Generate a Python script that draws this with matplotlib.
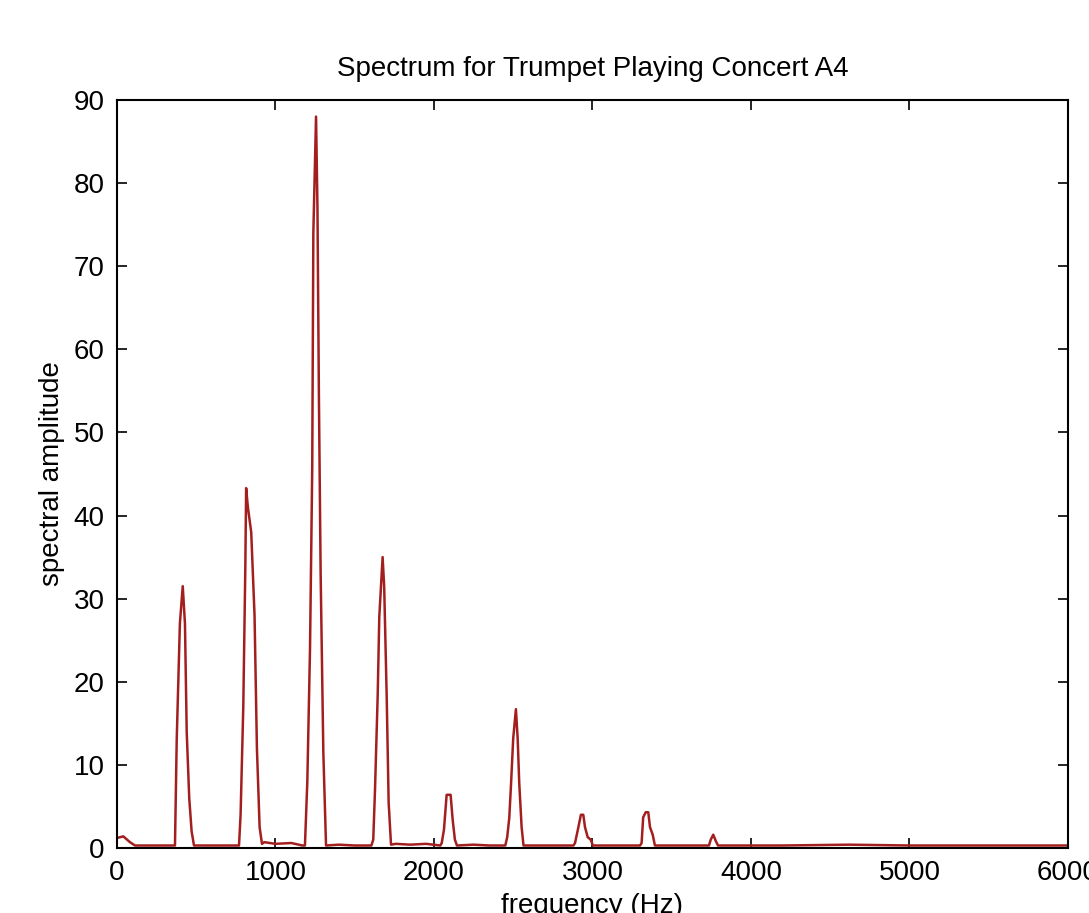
import matplotlib
matplotlib.use("Agg")
import matplotlib.pyplot as plt

# Spectrum data (frequency in Hz, spectral amplitude)
freq_hz = [
    0, 40, 82, 114, 145, 250, 366,
    377, 397, 415, 429, 440, 456, 471, 486,
    600, 770, 780, 797, 810, 815, 826, 847, 868, 883, 900, 915,
    930, 1000, 1100, 1170,
    1186, 1201, 1218, 1232, 1239, 1256, 1265, 1274, 1285, 1302, 1319,
    1400, 1500, 1605,
    1617, 1628, 1645, 1655, 1676, 1686, 1702, 1714, 1729,
    1760, 1850, 1950, 2040,
    2049, 2063, 2080, 2105, 2118, 2132, 2145,
    2250, 2350, 2450,
    2462, 2475, 2486, 2500, 2517, 2528, 2538, 2553, 2565,
    2700, 2880,
    2890, 2910, 2927, 2942, 2953, 2970, 2989, 3003,
    3150, 3300,
    3310, 3320, 3336, 3352, 3363, 3380, 3394,
    3550, 3735,
    3746, 3762, 3779, 3792,
    4200, 4620, 5000, 5500, 6000,
]
amplitude = [
    1.2, 1.4, 0.7, 0.3, 0.3, 0.3, 0.3,
    13.0, 27.0, 31.5, 27.0, 14.0, 6.0, 2.0, 0.3,
    0.3, 0.3, 4.0, 17.0, 34.0, 43.3, 41.0, 38.0, 28.0, 12.0, 2.5, 0.5,
    0.7, 0.5, 0.6, 0.3,
    0.3, 8.0, 24.0, 45.7, 74.0, 88.0, 77.0, 54.5, 33.0, 11.5, 0.3,
    0.4, 0.3, 0.3,
    1.0, 7.0, 18.4, 27.8, 35.0, 31.4, 18.0, 5.5, 0.4,
    0.5, 0.4, 0.5, 0.3,
    0.6, 2.2, 6.4, 6.4, 3.4, 1.0, 0.3,
    0.4, 0.3, 0.3,
    1.3, 3.6, 7.6, 13.2, 16.7, 13.2, 7.8, 2.5, 0.3,
    0.3, 0.3,
    0.6, 2.4, 4.0, 4.0, 2.5, 1.3, 1.0, 0.3,
    0.3, 0.3,
    0.6, 3.7, 4.3, 4.3, 2.5, 1.6, 0.3,
    0.3, 0.3,
    1.0, 1.6, 0.8, 0.3,
    0.3, 0.4, 0.3, 0.3, 0.3,
]

x_ticks = [0, 1000, 2000, 3000, 4000, 5000, 6000]
y_ticks = [0, 10, 20, 30, 40, 50, 60, 70, 80, 90]

title = "Spectrum for Trumpet Playing Concert A4"
x_label = "frequency (Hz)"
y_label = "spectral amplitude"

plt.rcParams["font.family"] = ["Liberation Sans", "DejaVu Sans"]

fig = plt.figure(figsize=(10.89, 9.13), dpi=100)
ax = fig.add_axes([0.1074, 0.0712, 0.8733, 0.8193])

ax.plot(freq_hz, amplitude, color="#a31f1f", linewidth=1.8)

ax.set_xlim(0, 6000)
ax.set_ylim(0, 90)
ax.set_xticks(x_ticks)
ax.set_yticks(y_ticks)
ax.tick_params(direction="in", top=True, right=True, length=7, width=1.2,
               labelsize=20, pad=9)
for s in ax.spines.values():
    s.set_linewidth(1.5)

ax.set_title(title, fontsize=20, pad=17)
ax.set_xlabel(x_label, fontsize=20, labelpad=5)
ax.set_ylabel(y_label, fontsize=20, labelpad=6)

fig.savefig("out.png", dpi=100)
